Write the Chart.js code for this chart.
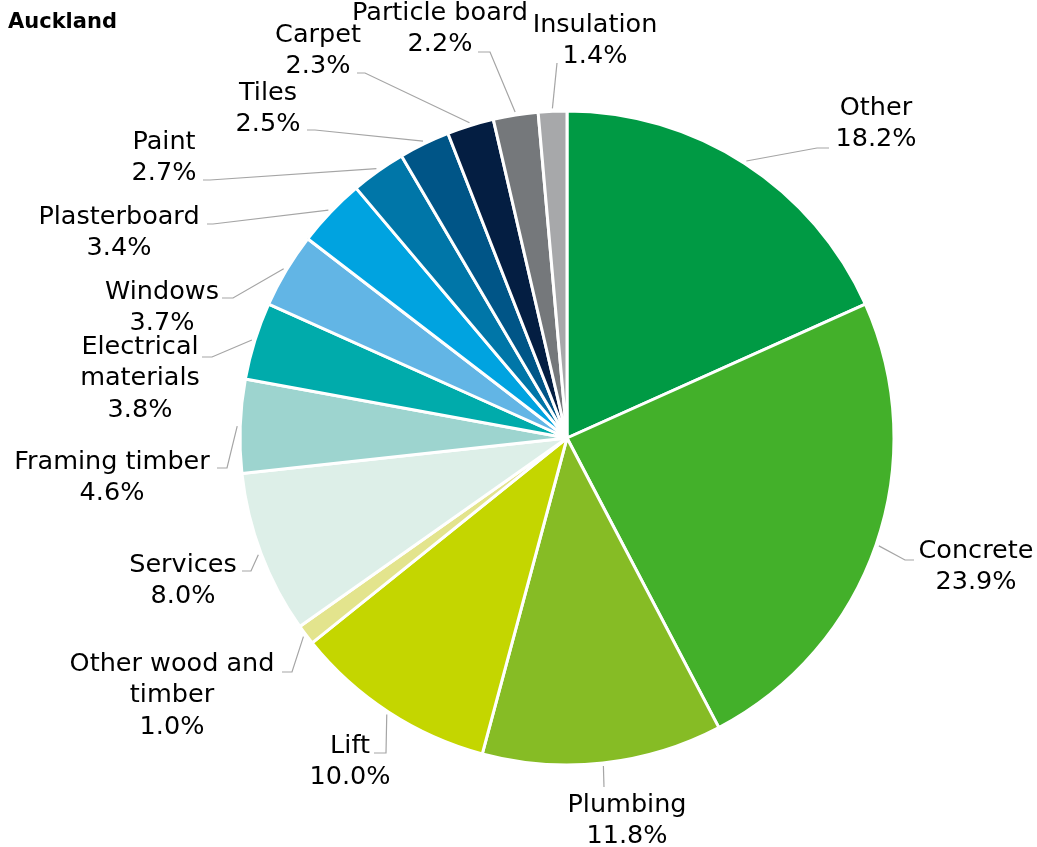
<!DOCTYPE html>
<html>
<head>
<meta charset="utf-8">
<script src="https://cdn.jsdelivr.net/npm/chart.js@4.4.1/dist/chart.umd.min.js"></script>
<style>
  html, body { margin: 0; padding: 0; background: #fff; }
  #wrap { position: relative; width: 1037px; height: 847px; }
</style>
</head>
<body>
<div id="wrap"><canvas id="pieChart" width="1037" height="847"></canvas></div>
<script>
// Auckland – share of construction cost by material (percent)
const categories = [
  "Other", "Concrete", "Plumbing", "Lift", ["Other wood and", "timber"],
  "Services", "Framing timber", ["Electrical", "materials"], "Windows",
  "Plasterboard", "Paint", "Tiles", "Carpet", "Particle board", "Insulation",
];
const shares = [18.2, 23.9, 11.8, 10.0, 1.0, 8.0, 4.6, 3.8, 3.7, 3.4, 2.7, 2.5, 2.3, 2.2, 1.4];
const sliceColors = [
  "#009a44", "#43b02a", "#86bc25", "#c4d600", "#e3e48d",
  "#ddefe8", "#9dd4cf", "#00abab", "#62b5e5", "#00a3e0",
  "#0076a8", "#005587", "#041e42", "#75787b", "#a7a8aa",
];

// label placement: text centre x, first line y, elbow of the leader, end of its flat part
const labelLayout = [
  { x: 876, y: 108, ex: 817, ey: 148, hx: 829 },
  { x: 976, y: 551, ex: 905, ey: 560, hx: 914 },
  { x: 627, y: 805, ex: 604, ey: 787, hx: 604 },
  { x: 350, y: 746, ex: 386, ey: 753, hx: 374 },
  { x: 172, y: 664, ex: 292, ey: 672, hx: 282 },
  { x: 183, y: 565, ex: 251, ey: 571, hx: 242 },
  { x: 112, y: 462, ex: 227, ey: 468, hx: 217 },
  { x: 140, y: 347, ex: 212, ey: 357, hx: 202 },
  { x: 162, y: 292, ex: 233, ey: 298, hx: 222 },
  { x: 119, y: 217, ex: 213, ey: 224, hx: 207 },
  { x: 164, y: 142, ex: 210, ey: 180, hx: 203 },
  { x: 268, y: 93, ex: 315, ey: 130, hx: 307 },
  { x: 318, y: 35, ex: 365, ey: 73, hx: 357 },
  { x: 440, y: 13, ex: 490, ey: 52, hx: 478 },
  { x: 595, y: 25, ex: 557, ey: 63, hx: 557 },
];

const FONT = "DejaVu Sans, Verdana, sans-serif";
const LINE_H = 31.5;

const labelPlugin = {
  id: "pieLabels",
  afterDatasetsDraw(chart) {
    const ctx = chart.ctx;
    const meta = chart.getDatasetMeta(0);
    ctx.save();

    ctx.font = `bold 21px ${FONT}`;
    ctx.fillStyle = "#000";
    ctx.textAlign = "left";
    ctx.textBaseline = "middle";
    ctx.fillText("Auckland", 8, 23);

    meta.data.forEach((arc, i) => {
      const lay = labelLayout[i];
      const mid = (arc.startAngle + arc.endAngle) / 2;
      const r = arc.outerRadius + 3;
      const px = arc.x + Math.cos(mid) * r;
      const py = arc.y + Math.sin(mid) * r;

      ctx.strokeStyle = "#a5a5a5";
      ctx.lineWidth = 1.2;
      ctx.beginPath();
      ctx.moveTo(px, py);
      ctx.lineTo(lay.ex, lay.ey);
      ctx.lineTo(lay.hx, lay.ey);
      ctx.stroke();

      const name = categories[i];
      const lines = (Array.isArray(name) ? name : [name]).concat(shares[i].toFixed(1) + "%");
      ctx.font = `25.5px ${FONT}`;
      ctx.fillStyle = "#000";
      ctx.textAlign = "center";
      lines.forEach((t, k) => ctx.fillText(t, lay.x, lay.y + k * LINE_H));
    });
    ctx.restore();
  },
};

new Chart(document.getElementById("pieChart"), {
  type: "pie",
  data: {
    labels: categories,
    datasets: [
      {
        data: shares,
        backgroundColor: sliceColors,
        borderColor: "#ffffff",
        borderWidth: 3,
        radius: 327,
      },
    ],
  },
  options: {
    responsive: false,
    animation: false,
    layout: { padding: { left: 240, right: 143, top: 111, bottom: 82 } },
    plugins: {
      legend: { display: false },
      tooltip: { enabled: false },
    },
  },
  plugins: [labelPlugin],
});
</script>
</body>
</html>
